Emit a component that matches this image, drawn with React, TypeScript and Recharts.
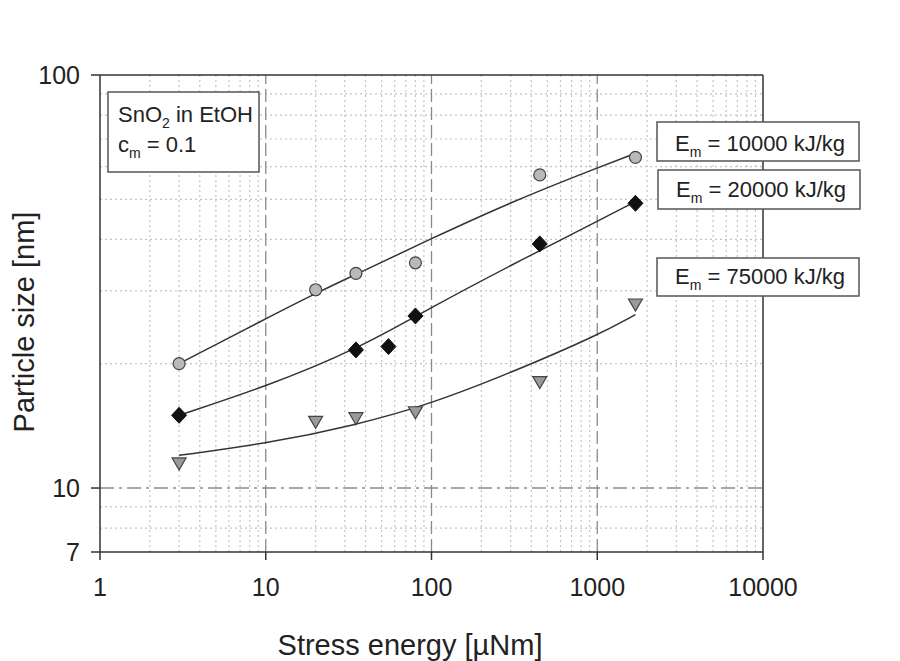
import React from "react";
import {
  ComposedChart,
  XAxis,
  YAxis,
  Line,
  Scatter,
  ReferenceLine,
} from "recharts";

// ---- data ----
const energyCircle = [3, 20, 35, 80, 450, 1700];
const sizeCircle = [20.0, 30.2, 33.1, 35.1, 57.3, 63.2];

const energyDiamond = [3, 35, 55, 80, 450, 1700];
const sizeDiamond = [15.0, 21.6, 22.0, 26.1, 39.0, 48.9];

const energyTriangle = [3, 20, 35, 80, 450, 1700];
const sizeTriangle = [11.5, 14.5, 14.8, 15.3, 18.1, 27.9];

// fitted curves
const fitCircleX = [3, 10, 20, 35, 100, 300, 1000, 1700];
const fitCircleY = [20.0, 25.7, 29.6, 32.9, 40.2, 49.2, 59.6, 64.6];

const fitDiamondX = [3, 10, 35, 100, 300, 1000, 1700];
const fitDiamondY = [15.0, 17.6, 21.6, 27.4, 34.6, 44.2, 49.4];

const fitTriangleX = [3, 10, 35, 100, 300, 1000, 1700];
const fitTriangleY = [12.0, 12.8, 14.2, 16.0, 19.0, 23.4, 26.3];

const xTicks = [1, 10, 100, 1000, 10000];
const yTicks = [7, 10, 100];

const xMinorGrid = [2, 3, 4, 5, 6, 7, 8, 9, 20, 30, 40, 50, 60, 70, 80, 90, 200, 300, 400, 500, 600, 700, 800, 900, 2000, 3000, 4000, 5000, 6000, 7000, 8000, 9000];
const xMajorGrid = [10, 100, 1000];
const yMinorGrid = [8, 9, 20, 30, 40, 50, 60, 70, 80, 90];
const yMajorGrid = [10];

const zip = (xs: number[], ys: number[]) => xs.map((x, i) => ({ x, y: ys[i] }));

const circles = zip(energyCircle, sizeCircle);
const diamonds = zip(energyDiamond, sizeDiamond);
const triangles = zip(energyTriangle, sizeTriangle);
const fitCircle = zip(fitCircleX, fitCircleY);
const fitDiamond = zip(fitDiamondX, fitDiamondY);
const fitTriangle = zip(fitTriangleX, fitTriangleY);

const FONT = "'Liberation Sans', Arial, Helvetica, sans-serif";
const TEXT = "#222";

const CircleShape = (p: any) => (
  <circle cx={p.cx} cy={p.cy} r={6} fill="#b9b9b9" stroke="#444" strokeWidth={1.2} />
);
const DiamondShape = (p: any) => (
  <polygon
    points={`${p.cx},${p.cy - 8} ${p.cx + 7.5},${p.cy} ${p.cx},${p.cy + 8} ${p.cx - 7.5},${p.cy}`}
    fill="#111"
    stroke="#111"
    strokeWidth={1}
  />
);
const TriangleShape = (p: any) => (
  <polygon
    points={`${p.cx - 7},${p.cy - 5} ${p.cx + 7},${p.cy - 5} ${p.cx},${p.cy + 7}`}
    fill="#9a9a9a"
    stroke="#444"
    strokeWidth={1.2}
  />
);

const Box = ({ x, y, w, h }: { x: number; y: number; w: number; h: number }) => (
  <rect x={x} y={y} width={w} height={h} fill="#fff" stroke="#555" strokeWidth={1.5} />
);

const EmLabel = ({ x, y, value }: { x: number; y: number; value: string }) => (
  <text x={x} y={y} fontSize={22} fontFamily={FONT} fill={TEXT}>
    E
    <tspan fontSize={14} dy={6}>m</tspan>
    <tspan dy={-6}>{` = ${value} kJ/kg`}</tspan>
  </text>
);

export default function App() {
  return (
    <div style={{ position: "absolute", left: 0, top: 0, width: 900, height: 661, background: "#fff" }}>
      <ComposedChart
        width={900}
        height={661}
        margin={{ top: 75, right: 137, bottom: 9, left: 0 }}
      >
        <XAxis
          dataKey="x"
          type="number"
          scale="log"
          domain={[1, 10000]}
          ticks={xTicks}
          allowDataOverflow
          height={100}
          tickSize={8}
          tickMargin={18}
          stroke="#333"
          strokeWidth={1.5}
          tick={{ fontSize: 25, fontFamily: FONT, fill: TEXT }}
          tickFormatter={(v: number) => String(v)}
        />
        <YAxis
          dataKey="y"
          type="number"
          scale="log"
          domain={[7, 100]}
          ticks={yTicks}
          allowDataOverflow
          width={100}
          tickSize={9}
          tickMargin={11}
          stroke="#333"
          strokeWidth={1.5}
          tick={{ fontSize: 25, fontFamily: FONT, fill: TEXT }}
          tickFormatter={(v: number) => String(v)}
        />
        {xMinorGrid.map((v) => (
          <ReferenceLine key={"xm" + v} x={v} stroke="#c4c4c4" strokeWidth={1.2} strokeDasharray="2 3" />
        ))}
        {yMinorGrid.map((v) => (
          <ReferenceLine key={"ym" + v} y={v} stroke="#c4c4c4" strokeWidth={1.2} strokeDasharray="2 3" />
        ))}
        {xMajorGrid.map((v) => (
          <ReferenceLine key={"xM" + v} x={v} stroke="#8a8a8a" strokeWidth={1.3} strokeDasharray="13 5" />
        ))}
        {yMajorGrid.map((v) => (
          <ReferenceLine key={"yM" + v} y={v} stroke="#8a8a8a" strokeWidth={1.3} strokeDasharray="14 5 3 5" />
        ))}
        <ReferenceLine y={100} stroke="#333" strokeWidth={1.5} />
        <ReferenceLine x={10000} stroke="#333" strokeWidth={1.5} />

        <Line data={fitCircle} dataKey="y" type="basis" stroke="#333" strokeWidth={1.5} dot={false} isAnimationActive={false} />
        <Line data={fitDiamond} dataKey="y" type="basis" stroke="#333" strokeWidth={1.5} dot={false} isAnimationActive={false} />
        <Line data={fitTriangle} dataKey="y" type="basis" stroke="#333" strokeWidth={1.5} dot={false} isAnimationActive={false} />

        <Scatter data={circles} dataKey="y" shape={CircleShape} isAnimationActive={false} />
        <Scatter data={diamonds} dataKey="y" shape={DiamondShape} isAnimationActive={false} />
        <Scatter data={triangles} dataKey="y" shape={TriangleShape} isAnimationActive={false} />
      </ComposedChart>

      <svg
        width={900}
        height={661}
        style={{ position: "absolute", left: 0, top: 0, pointerEvents: "none" }}
      >
        <text
          transform="translate(34, 322) rotate(-90)"
          textAnchor="middle"
          fontSize={29}
          fontFamily={FONT}
          fill={TEXT}
        >
          Particle size [nm]
        </text>
        <text x={410} y={655} textAnchor="middle" fontSize={29} fontFamily={FONT} fill={TEXT}>
          Stress energy [µNm]
        </text>

        <Box x={108} y={92} w={151} h={80} />
        <text x={118} y={122} fontSize={22} fontFamily={FONT} fill={TEXT}>
          SnO
          <tspan fontSize={14} dy={6}>2</tspan>
          <tspan dy={-6}> in EtOH</tspan>
        </text>
        <text x={118} y={152} fontSize={22} fontFamily={FONT} fill={TEXT}>
          c
          <tspan fontSize={14} dy={6}>m</tspan>
          <tspan dy={-6}> = 0.1</tspan>
        </text>

        <Box x={657} y={122} w={202} h={39} />
        <EmLabel x={675} y={151} value="10000" />
        <Box x={658} y={170} w={202} h={39} />
        <EmLabel x={676} y={197} value="20000" />
        <Box x={657} y={258} w={202} h={38} />
        <EmLabel x={675} y={284} value="75000" />
      </svg>
    </div>
  );
}
